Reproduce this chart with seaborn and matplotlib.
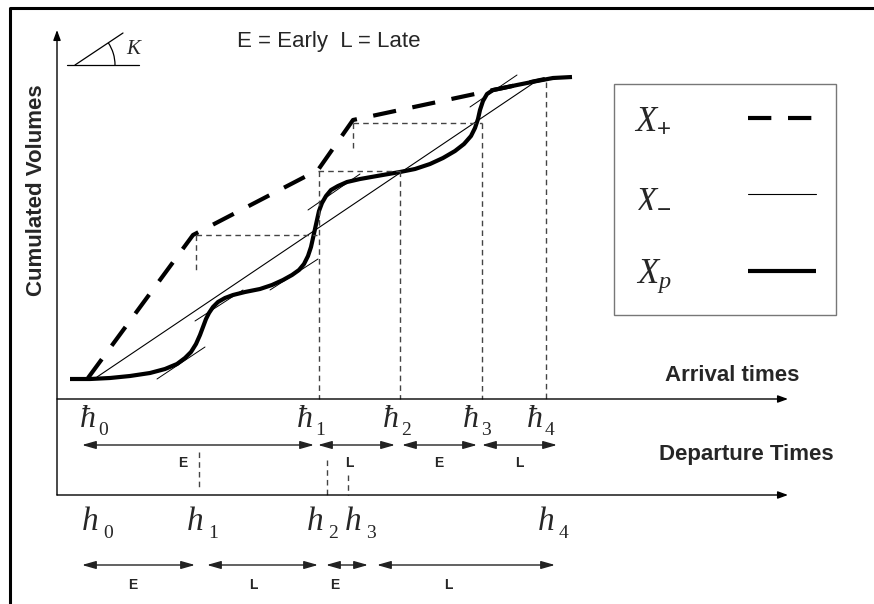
import numpy as np
import pandas as pd
import seaborn as sns
import matplotlib
matplotlib.use("Agg")
import matplotlib.pyplot as plt
from matplotlib.patches import Arc

# ---------------- data (time units = t, cumulated volume units = v) ----------------
xp_t = [13, 33, 53, 73, 93, 108, 120, 128, 134, 139, 143, 146, 149, 152, 156, 161, 168,
        176, 188, 203, 215, 226, 235, 242, 247, 251, 254, 256, 258, 260, 262, 265, 269,
        274, 281, 290, 303, 320, 343, 358, 373, 386, 398, 407, 414, 418, 421, 423, 426,
        430, 436, 446, 460, 480, 496, 515]
xp_v = [20, 20, 21, 23, 26, 30, 35, 41, 47, 55, 64, 72, 80, 86, 92, 97, 101,
        104, 107, 110, 114, 119, 124, 129, 135, 143, 152, 161, 170, 179, 188, 196, 203,
        209, 213, 217, 220, 223, 227, 230, 235, 241, 248, 255, 263, 271, 280, 289, 298,
        305, 309, 311, 314, 318, 321, 322]

xplus_t = [31, 136, 261, 296, 488]
xplus_v = [21, 164, 229, 279, 320]

xminus_t = [40, 478]
xminus_v = [22, 317]

# tangent segments of slope K
tan_t0 = [100, 138, 213, 251, 413]
tan_v0 = [20, 78, 109, 189, 292]
tan_t1 = [148, 186, 261, 303, 460]
tan_v1 = [52, 109, 140, 225, 324]

# dashed guides
hguide_v = [164, 228, 276]
hguide_t0 = [139, 261, 296]
hguide_t1 = [260, 343, 425]
vguide_t = [139, 296, 262, 343, 425, 489, 142, 270, 291]
vguide_v0 = [164, 276, 228, 228, 276, 317, -53, -61, -76]
vguide_v1 = [127, 247, 0, 0, 0, 0, -91, -96, -96]

# arrival-time breakpoints (h-bar) and departure times (h)
hbar_labels = ["0", "1", "2", "3", "4"]
hbar_t = [23, 240, 326, 406, 470]
h_labels = ["0", "1", "2", "3", "4"]
h_t = [25, 130, 250, 288, 481]

arr_start = [25, 261, 345, 425]
arr_end = [257, 338, 420, 500]
arr_lab = ["E", "L", "E", "L"]
arr_lab_t = [126, 292, 382, 462]

dep_start = [25, 150, 269, 320]
dep_end = [138, 261, 311, 498]
dep_lab = ["E", "L", "E", "L"]
dep_lab_t = [76, 196, 278, 391]

# ---------------- style ----------------
sns.set_theme(style="white")
plt.rcParams["font.family"] = ["Liberation Sans", "DejaVu Sans"]
plt.rcParams["mathtext.fontset"] = "custom"
plt.rcParams["mathtext.it"] = "Liberation Serif:italic"
plt.rcParams["mathtext.rm"] = "Liberation Serif"
plt.rcParams["mathtext.sf"] = "Liberation Sans"

fig = plt.figure(figsize=(8.74, 6.04), dpi=100)
ax = fig.add_axes([0, 0, 1, 1])
ax.set_xlim(-57, 817)
ax.set_ylim(-205, 399)
ax.axis("off")

SERIF = "Liberation Serif"
GUIDE = "#444444"

# main series
df_plus = pd.DataFrame({"t": xplus_t, "v": xplus_v})
df_minus = pd.DataFrame({"t": xminus_t, "v": xminus_v})
df_p = pd.DataFrame({"t": xp_t, "v": xp_v})

sns.lineplot(data=df_plus, x="t", y="v", ax=ax, sort=False, estimator=None, color="black",
             lw=3, linestyle=(0, (5.6, 4.0)), dash_capstyle="butt",
             label=r"$X_{\mathsf{+}}$")
sns.lineplot(data=df_minus, x="t", y="v", ax=ax, sort=False, estimator=None, color="black",
             lw=0.8, label=r"$X_{\mathsf{-}}$")
sns.lineplot(data=df_p, x="t", y="v", ax=ax, sort=False, estimator=None, color="black",
             lw=3, solid_joinstyle="round", solid_capstyle="butt", label=r"$X_{p}$")

for a0, b0, a1, b1 in zip(tan_t0, tan_v0, tan_t1, tan_v1):
    ax.plot([a0, a1], [b0, b1], color="black", lw=0.7)

for v, a0, a1 in zip(hguide_v, hguide_t0, hguide_t1):
    ax.plot([a0, a1], [v, v], color=GUIDE, lw=1, linestyle=(0, (4, 3)))
for t, b0, b1 in zip(vguide_t, vguide_v0, vguide_v1):
    ax.plot([t, t], [b0, b1], color=GUIDE, lw=1, linestyle=(0, (4, 3)))

# axes arrows
ahead = dict(arrowstyle="-|>,head_length=0.6,head_width=0.22", color="black", lw=1,
             mutation_scale=10, shrinkA=0, shrinkB=0)
ax.annotate("", xy=(0, 369), xytext=(0, -96), arrowprops=ahead)
ax.annotate("", xy=(731, 0), xytext=(0, 0), arrowprops=ahead)
ax.annotate("", xy=(731, -96), xytext=(0, -96), arrowprops=ahead)

# outer frame
ax.plot([-47, -47, 817], [-205, 391, 391], color="black", lw=2.2, clip_on=False,
        solid_capstyle="projecting")

# E / L arrows
dhead = dict(arrowstyle="<|-|>,head_length=0.7,head_width=0.2", color="#222222", lw=1,
             mutation_scale=12, shrinkA=0, shrinkB=0)
for a0, a1 in zip(arr_start, arr_end):
    ax.annotate("", xy=(a1, -46), xytext=(a0, -46), arrowprops=dhead)
for lab, t in zip(arr_lab, arr_lab_t):
    ax.text(t, -64, lab, fontsize=10, fontweight="bold", ha="center", va="center")
for a0, a1 in zip(dep_start, dep_end):
    ax.annotate("", xy=(a1, -166), xytext=(a0, -166), arrowprops=dhead)
for lab, t in zip(dep_lab, dep_lab_t):
    ax.text(t, -186, lab, fontsize=10, fontweight="bold", ha="center", va="center")

# h-bar and h labels
for lab, t in zip(hbar_labels, hbar_t):
    ax.text(t, -28, "ħ", fontsize=23, family=SERIF, style="italic", ha="left", va="baseline")
    ax.text(t + 18, -36, lab, fontsize=14, family=SERIF, ha="left", va="baseline")
for lab, t in zip(h_labels, h_t):
    ax.text(t, -131, "h", fontsize=24, family=SERIF, style="italic", ha="left", va="baseline")
    ax.text(t + 21, -139, lab, fontsize=14, family=SERIF, ha="left", va="baseline")

# texts
ax.text(-20, 209, "Cumulated Volumes", rotation=90, fontsize=16, fontweight="bold",
        ha="center", va="center")
ax.text(180, 352, "E = Early  L = Late", fontsize=16, ha="left", va="baseline")
ax.text(608, 18, "Arrival times", fontsize=16, fontweight="bold", ha="left", va="baseline")
ax.text(602, -61, "Departure Times", fontsize=16, fontweight="bold", ha="left", va="baseline")

# slope K symbol
ax.plot([10, 82], [334, 334], color="black", lw=0.9)
ax.plot([18, 66], [334, 366], color="black", lw=0.9)
ax.add_patch(Arc((18, 334), 80, 80, theta1=0, theta2=33.7, color="black", lw=0.9))
ax.text(76, 349, "K", fontsize=15, family=SERIF, style="italic", ha="center", va="center")

leg = ax.legend(loc="upper left", bbox_to_anchor=(614 / 874, 1 - 84 / 604),
                borderaxespad=0, markerfirst=False, fontsize=25, frameon=True,
                fancybox=False, edgecolor="#555555", handlelength=1.95,
                handletextpad=2.2, labelspacing=1.25, borderpad=0.58)
leg.get_frame().set_linewidth(1)

fig.savefig("out.png", dpi=100)
